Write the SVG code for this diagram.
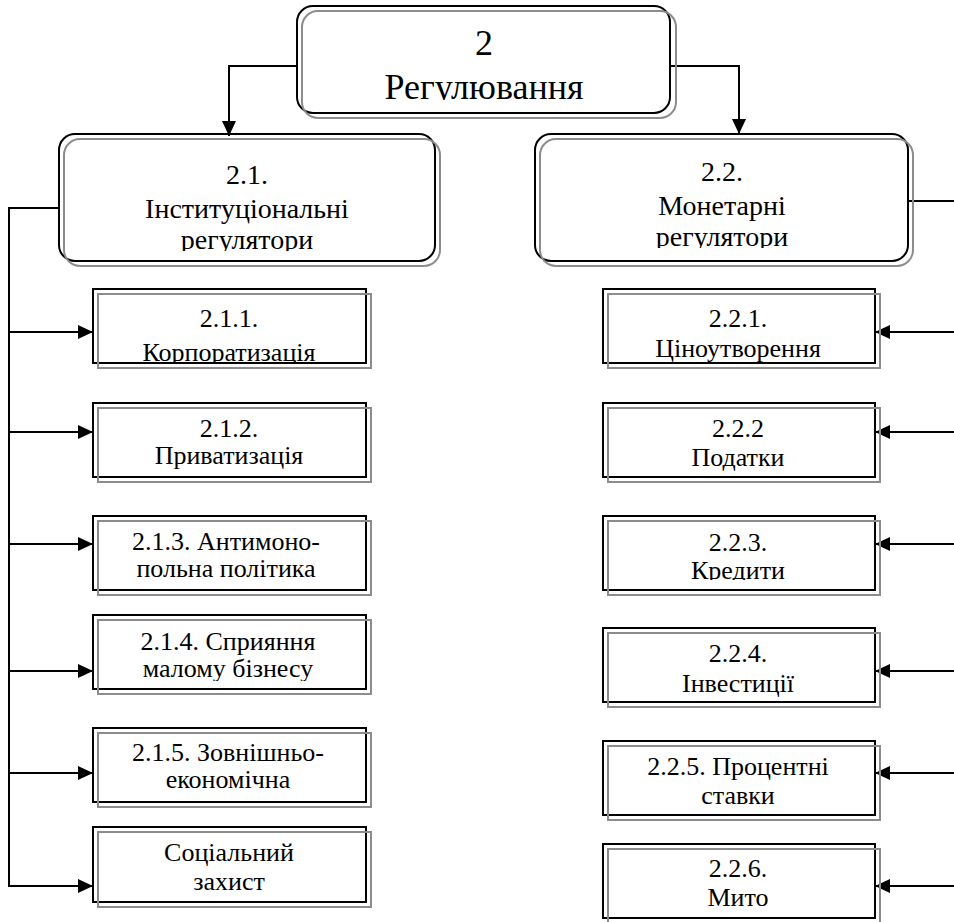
<svg xmlns="http://www.w3.org/2000/svg" width="954" height="922" viewBox="0 0 954 922">
<style>
.b{fill:none;stroke:#000;stroke-width:2}
.g{fill:none;stroke:#8c8c8c;stroke-width:2}
.c{fill:none;stroke:#000;stroke-width:2}
.w{fill:#fff;stroke:none}
</style>
<defs>
<marker id="ar" markerUnits="userSpaceOnUse" markerWidth="16" markerHeight="14" refX="15" refY="7" orient="auto">
<path d="M0,0 L15,7 L0,14 Z" fill="#000"/>
</marker>
</defs>

<g id="connectors">
<path class="c" d="M297,66 H229 V136" marker-end="url(#ar)"/>
<path class="c" d="M670,66 H739 V134" marker-end="url(#ar)"/>
<path class="c" d="M59,208 H9 V886 H93" marker-end="url(#ar)"/>
<path class="c" d="M9,332 H93" marker-end="url(#ar)"/>
<path class="c" d="M9,432 H93" marker-end="url(#ar)"/>
<path class="c" d="M9,544 H93" marker-end="url(#ar)"/>
<path class="c" d="M9,671 H93" marker-end="url(#ar)"/>
<path class="c" d="M9,773 H93" marker-end="url(#ar)"/>
<path class="c" d="M908,201 H954"/>
<path class="c" d="M954,332 H875" marker-end="url(#ar)"/>
<path class="c" d="M954,432 H875" marker-end="url(#ar)"/>
<path class="c" d="M954,544 H875" marker-end="url(#ar)"/>
<path class="c" d="M954,671 H875" marker-end="url(#ar)"/>
<path class="c" d="M954,773 H875" marker-end="url(#ar)"/>
<path class="c" d="M954,886 H875" marker-end="url(#ar)"/>
</g>

<g id="n2">
<text font-family="Liberation Serif" font-size="36" text-anchor="middle" x="484" y="55">2</text>
<text font-family="Liberation Serif" font-size="36" text-anchor="middle" x="484" y="99">Регулювання</text>
<rect class="w" x="320" y="100" width="330" height="12"/>
<rect class="b" x="297" y="6" width="373" height="107" rx="16"/>
<rect class="g" x="302" y="11" width="374" height="107" rx="16"/>
</g>

<g id="n21">
<text font-family="Liberation Serif" font-size="28" text-anchor="middle" x="247" y="184">2.1.</text>
<text font-family="Liberation Serif" font-size="28" text-anchor="middle" x="247" y="218">Інституціональні</text>
<text font-family="Liberation Serif" font-size="28" text-anchor="middle" x="247" y="249">регулятори</text>
<rect class="w" x="100" y="251" width="300" height="10"/>
<rect class="b" x="59" y="134" width="376" height="127" rx="16"/>
<rect class="g" x="64" y="139" width="376" height="127" rx="16"/>
</g>

<g id="n22">
<text font-family="Liberation Serif" font-size="28" text-anchor="middle" x="722" y="181">2.2.</text>
<text font-family="Liberation Serif" font-size="28" text-anchor="middle" x="722" y="215">Монетарні</text>
<text font-family="Liberation Serif" font-size="28" text-anchor="middle" x="722" y="246">регулятори</text>
<rect class="w" x="580" y="248" width="290" height="13"/>
<rect class="b" x="535" y="134" width="373" height="127" rx="16"/>
<rect class="g" x="540" y="139" width="373" height="127" rx="16"/>
</g>

<g id="n211">
<text font-family="Liberation Serif" font-size="26" text-anchor="middle" x="229" y="327">2.1.1.</text>
<text font-family="Liberation Serif" font-size="26" text-anchor="middle" x="229" y="361">Корпоратизація</text>
<rect class="w" x="100" y="362" width="262" height="8"/>
<rect class="b" x="93" y="289" width="273" height="74"/>
<rect class="g" x="98" y="294" width="273" height="74"/>
</g>

<g id="n212">
<text font-family="Liberation Serif" font-size="26" text-anchor="middle" x="229" y="437">2.1.2.</text>
<text font-family="Liberation Serif" font-size="26" text-anchor="middle" x="229" y="464">Приватизація</text>
<rect class="b" x="93" y="403" width="273" height="74"/>
<rect class="g" x="98" y="408" width="273" height="74"/>
</g>

<g id="n213">
<text font-family="Liberation Serif" font-size="26" text-anchor="middle" x="226" y="550">2.1.3. Антимоно-</text>
<text font-family="Liberation Serif" font-size="26" text-anchor="middle" x="226" y="577">польна політика</text>
<rect class="b" x="93" y="516" width="273" height="74"/>
<rect class="g" x="98" y="521" width="273" height="74"/>
</g>

<g id="n214">
<text font-family="Liberation Serif" font-size="26" text-anchor="middle" x="228" y="650">2.1.4. Сприяння</text>
<text font-family="Liberation Serif" font-size="26" text-anchor="middle" x="228" y="677">малому бізнесу</text>
<rect class="w" x="100" y="681" width="262" height="7"/>
<rect class="b" x="93" y="615" width="273" height="74"/>
<rect class="g" x="98" y="620" width="273" height="74"/>
</g>

<g id="n215">
<text font-family="Liberation Serif" font-size="26" text-anchor="middle" x="228" y="761">2.1.5. Зовнішньо-</text>
<text font-family="Liberation Serif" font-size="26" text-anchor="middle" x="228" y="788">економічна</text>
<rect class="b" x="93" y="728" width="273" height="74"/>
<rect class="g" x="98" y="733" width="273" height="74"/>
</g>

<g id="n216">
<text font-family="Liberation Serif" font-size="26" text-anchor="middle" x="229" y="861">Соціальний</text>
<text font-family="Liberation Serif" font-size="26" text-anchor="middle" x="229" y="890">захист</text>
<rect class="b" x="93" y="827" width="273" height="75"/>
<rect class="g" x="98" y="832" width="273" height="75"/>
</g>

<g id="n221">
<text font-family="Liberation Serif" font-size="26" text-anchor="middle" x="738" y="327">2.2.1.</text>
<text font-family="Liberation Serif" font-size="26" text-anchor="middle" x="738" y="357">Ціноутворення</text>
<rect class="b" x="603" y="289" width="272" height="74"/>
<rect class="g" x="608" y="294" width="272" height="74"/>
</g>

<g id="n222">
<text font-family="Liberation Serif" font-size="26" text-anchor="middle" x="738" y="437">2.2.2</text>
<text font-family="Liberation Serif" font-size="26" text-anchor="middle" x="738" y="466">Податки</text>
<rect class="b" x="603" y="403" width="272" height="74"/>
<rect class="g" x="608" y="408" width="272" height="74"/>
</g>

<g id="n223">
<text font-family="Liberation Serif" font-size="26" text-anchor="middle" x="738" y="551">2.2.3.</text>
<text font-family="Liberation Serif" font-size="26" text-anchor="middle" x="738" y="579">Кредити</text>
<rect class="w" x="620" y="580" width="240" height="9"/>
<rect class="b" x="603" y="516" width="272" height="74"/>
<rect class="g" x="608" y="521" width="272" height="74"/>
</g>

<g id="n224">
<text font-family="Liberation Serif" font-size="26" text-anchor="middle" x="738" y="662">2.2.4.</text>
<text font-family="Liberation Serif" font-size="26" text-anchor="middle" x="738" y="692">Інвестиції</text>
<rect class="b" x="603" y="628" width="272" height="74"/>
<rect class="g" x="608" y="633" width="272" height="74"/>
</g>

<g id="n225">
<text font-family="Liberation Serif" font-size="26" text-anchor="middle" x="738" y="775">2.2.5. Процентні</text>
<text font-family="Liberation Serif" font-size="26" text-anchor="middle" x="738" y="804">ставки</text>
<rect class="b" x="603" y="741" width="272" height="74"/>
<rect class="g" x="608" y="746" width="272" height="74"/>
</g>

<g id="n226">
<text font-family="Liberation Serif" font-size="26" text-anchor="middle" x="738" y="877">2.2.6.</text>
<text font-family="Liberation Serif" font-size="26" text-anchor="middle" x="738" y="906">Мито</text>
<rect class="b" x="603" y="844" width="272" height="74"/>
<rect class="g" x="608" y="849" width="272" height="74"/>
</g>
</svg>
